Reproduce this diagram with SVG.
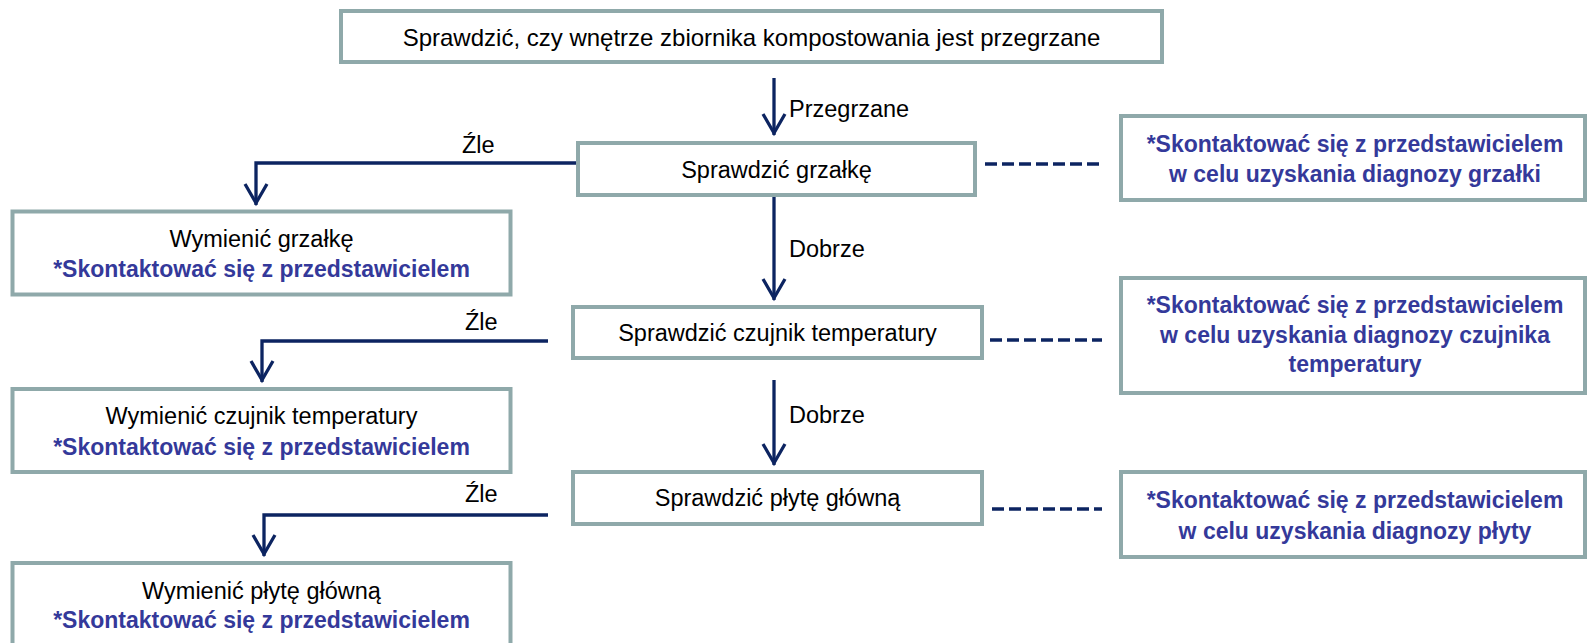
<svg xmlns="http://www.w3.org/2000/svg" width="1588" height="643" viewBox="0 0 1588 643">
<style>
.box{fill:#ffffff;stroke:#8FA9AA;stroke-width:4}
.t{font-family:"Liberation Sans",Arial,sans-serif;font-size:23.5px;fill:#000000;text-anchor:middle}
.lbl{font-family:"Liberation Sans",Arial,sans-serif;font-size:23.5px;fill:#000000}
.b{font-family:"Liberation Sans",Arial,sans-serif;font-size:23px;font-weight:bold;fill:#34399A;text-anchor:middle}
.c{fill:none;stroke:#0C2461;stroke-width:3.3}
.d{fill:none;stroke:#0C2461;stroke-width:3.5;stroke-dasharray:12 5}
</style>
<defs>
<marker id="ah" markerUnits="userSpaceOnUse" markerWidth="40" markerHeight="40" viewBox="-30 -20 40 40" refX="0" refY="0" orient="auto" overflow="visible">
<path d="M-21,-11 L-2,0 L-21,11" fill="none" stroke="#0C2461" stroke-width="3.3"/>
</marker>
</defs>

<g id="connectors">
<path class="c" d="M774,78 V135" marker-end="url(#ah)"/>
<path class="c" d="M774,197 V300" marker-end="url(#ah)"/>
<path class="c" d="M774,380 V465" marker-end="url(#ah)"/>
<path class="c" d="M576,163 H256 V205" marker-end="url(#ah)"/>
<path class="c" d="M548,341 H262 V382" marker-end="url(#ah)"/>
<path class="c" d="M548,515 H264 V556" marker-end="url(#ah)"/>
<path class="d" d="M985,164 H1102"/>
<path class="d" d="M990,340 H1102"/>
<path class="d" d="M992,509 H1102"/>
<text class="lbl" x="789" y="117">Przegrzane</text>
<text class="lbl" x="789" y="257">Dobrze</text>
<text class="lbl" x="789" y="423">Dobrze</text>
<text class="lbl" x="462" y="153">Źle</text>
<text class="lbl" x="465" y="330">Źle</text>
<text class="lbl" x="465" y="502">Źle</text>
</g>

<g id="n-top">
<rect class="box" x="341" y="11" width="821" height="51"/>
<text class="t" x="751.5" y="46" style="font-size:24px">Sprawdzić, czy wnętrze zbiornika kompostowania jest przegrzane</text>
</g>

<g id="n-check-heater">
<rect class="box" x="578" y="143" width="397" height="52"/>
<text class="t" x="776.5" y="178">Sprawdzić grzałkę</text>
</g>

<g id="n-check-sensor">
<rect class="box" x="573" y="307" width="409" height="51"/>
<text class="t" x="777.5" y="341">Sprawdzić czujnik temperatury</text>
</g>

<g id="n-check-board">
<rect class="box" x="573" y="472" width="409" height="52"/>
<text class="t" x="777.5" y="506">Sprawdzić płytę główną</text>
</g>

<g id="n-replace-heater">
<rect class="box" x="12.5" y="211.5" width="498" height="83"/>
<text class="t" x="261.5" y="247">Wymienić grzałkę</text>
<text class="b" x="261.5" y="277">*Skontaktować się z przedstawicielem</text>
</g>

<g id="n-replace-sensor">
<rect class="box" x="12.5" y="389" width="498" height="83"/>
<text class="t" x="261.5" y="424">Wymienić czujnik temperatury</text>
<text class="b" x="261.5" y="455">*Skontaktować się z przedstawicielem</text>
</g>

<g id="n-replace-board">
<rect class="box" x="12.5" y="563" width="498" height="90"/>
<text class="t" x="261.5" y="599">Wymienić płytę główną</text>
<text class="b" x="261.5" y="628">*Skontaktować się z przedstawicielem</text>
</g>

<g id="n-contact-heater">
<rect class="box" x="1121" y="116" width="464" height="84"/>
<text class="b" x="1355" y="152">*Skontaktować się z przedstawicielem</text>
<text class="b" x="1355" y="182">w celu uzyskania diagnozy grzałki</text>
</g>

<g id="n-contact-sensor">
<rect class="box" x="1121" y="278" width="464" height="115"/>
<text class="b" x="1355" y="313">*Skontaktować się z przedstawicielem</text>
<text class="b" x="1355" y="343">w celu uzyskania diagnozy czujnika</text>
<text class="b" x="1355" y="372">temperatury</text>
</g>

<g id="n-contact-board">
<rect class="box" x="1121" y="472" width="464" height="85"/>
<text class="b" x="1355" y="508">*Skontaktować się z przedstawicielem</text>
<text class="b" x="1355" y="539">w celu uzyskania diagnozy płyty</text>
</g>
</svg>
